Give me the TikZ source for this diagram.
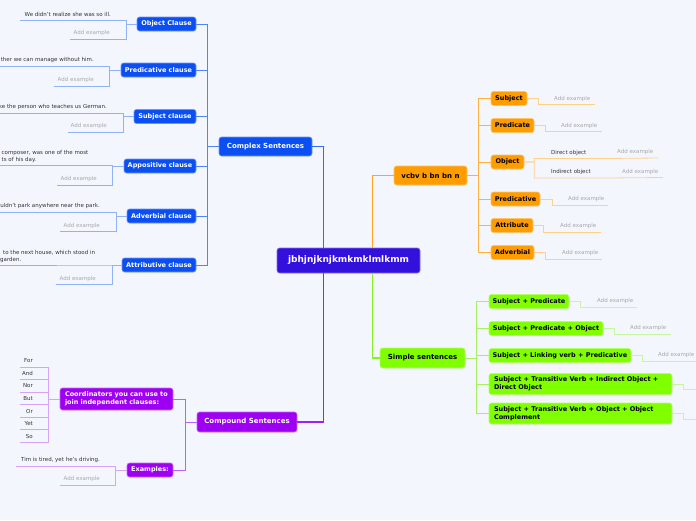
\documentclass[tikz,border=0pt]{standalone}
\usepackage{fontspec}
\setmainfont{DejaVu Sans}
\definecolor{bgc}{HTML}{F3F6FD}
\definecolor{cmain}{HTML}{3310DC}
\definecolor{cblue}{HTML}{0B4FF3}
\definecolor{corange}{HTML}{FF9C00}
\definecolor{cgreen}{HTML}{80FF00}
\definecolor{cpurple}{HTML}{9E00F2}
\definecolor{bmain}{HTML}{2F6DF2}
\definecolor{bspine}{HTML}{4F85F5}
\definecolor{bleafc}{HTML}{90B2F8}
\definecolor{omain}{HTML}{FFA51F}
\definecolor{ospine}{HTML}{FFB040}
\definecolor{oleafc}{HTML}{FFD08A}
\definecolor{gmain}{HTML}{88F020}
\definecolor{gspine}{HTML}{A8F060}
\definecolor{gleafc}{HTML}{C8F5A0}
\definecolor{pmain}{HTML}{A020F0}
\definecolor{pspine}{HTML}{B866F2}
\definecolor{pleafc}{HTML}{D4A4F7}
\definecolor{leaftext}{HTML}{333333}
\definecolor{addtext}{HTML}{A8A8A8}
\tikzset{
  box/.style={rounded corners=2.5pt, inner sep=0pt, align=center, line width=0.6pt},
  lvl0/.style={box, fill=cmain, draw=cmain!60!white, text=white, font=\fontsize{9}{11}\selectfont\bfseries},
  lvl1/.style={box, font=\fontsize{7}{8.5}\selectfont\bfseries},
  lvl2/.style={box, font=\fontsize{6.5}{7.8}\selectfont\bfseries},
  bluebox/.style={fill=cblue, draw=cblue!60!white, text=white},
  orangebox/.style={fill=corange, draw=corange!60!white, text=black},
  greenbox/.style={fill=cgreen, draw=cgreen!60!white, text=black},
  purplebox/.style={fill=cpurple, draw=cpurple!60!white, text=white},
  leaf/.style={inner sep=0pt, font=\fontsize{5.5}{7}\selectfont, text=leaftext},
  addex/.style={leaf, text=addtext},
  bm/.style={draw=bmain, line width=1.3pt},
  bs/.style={draw=bspine, line width=0.9pt},
  bl/.style={draw=bleafc, line width=0.8pt},
  om/.style={draw=omain, line width=1.3pt},
  os/.style={draw=ospine, line width=0.9pt},
  ol/.style={draw=oleafc, line width=0.8pt},
  gm/.style={draw=gmain, line width=1.3pt},
  gs/.style={draw=gspine, line width=0.9pt},
  gl/.style={draw=gleafc, line width=0.8pt},
  pm/.style={draw=pmain, line width=1.3pt},
  ps/.style={draw=pspine, line width=0.9pt},
  pl/.style={draw=pleafc, line width=0.8pt},
}
\begin{document}
\begin{tikzpicture}[x=1pt,y=-1pt]
\useasboundingbox (0,0) rectangle (696,520);
\fill[bgc] (0,0) rectangle (696,520);

% ---------------- central
\node[lvl0, minimum width=143pt, minimum height=25pt] (central) at (348.5,260.5) {jbhjnjknjkmkmklmlkmm};

% ---------------- blue branch
\node[lvl1, bluebox, minimum width=93pt, minimum height=19pt] (cs) at (265.5,146.5) {Complex Sentences};
\node[lvl2, bluebox, minimum width=59pt, minimum height=14pt] (oc) at (166.5,24) {Object Clause};
\node[lvl2, bluebox, minimum width=75pt, minimum height=14pt] (pc) at (158.5,70) {Predicative clause};
\node[lvl2, bluebox, minimum width=62pt, minimum height=14pt] (sc) at (165,116.5) {Subject clause};
\node[lvl2, bluebox, minimum width=72pt, minimum height=14pt] (ac) at (160,166) {Appositive clause};
\node[lvl2, bluebox, minimum width=69pt, minimum height=14pt] (adc) at (161.5,216) {Adverbial clause};
\node[lvl2, bluebox, minimum width=74pt, minimum height=14pt] (atc) at (159,265) {Attributive clause};

\draw[bm] ([xshift=47pt]central.north west) |- (cs.east);
\foreach \n in {oc,pc,sc,ac,adc,atc}{
  \draw[bs] (cs.west) -- ++(-11,0) |- (\n.east);
}

% blue leaves
\node[leaf, anchor=east] (ocT) at (111,14) {We didn't realize she was so ill.};
\node[addex, anchor=east] (ocA) at (110,33) {Add example};
\coordinate (ocTu) at (20,20); \coordinate (ocAu) at (70,39);
\draw[bl] (oc.west) -- ++(-10,0) |- (ocTu);
\draw[bl] (oc.west) -- ++(-10,0) |- (ocAu);

\node[leaf, anchor=east] (pcT) at (94,60) {ther we can manage without him.};
\node[addex, anchor=east] (pcA) at (94,80) {Add example};
\coordinate (pcTu) at (0,66); \coordinate (pcAu) at (54,86);
\draw[bl] (pc.west) -- ++(-11,0) |- (pcTu);
\draw[bl] (pc.west) -- ++(-11,0) |- (pcAu);

\node[leaf, anchor=east] (scT) at (107,107) {ke the person who teaches us German.};
\node[addex, anchor=east] (scA) at (107,126) {Add example};
\coordinate (scTu) at (0,113); \coordinate (scAu) at (68,132);
\draw[bl] (sc.west) -- ++(-10,0) |- (scTu);
\draw[bl] (sc.west) -- ++(-10,0) |- (scAu);

\node[leaf, anchor=north west, align=left] (acT) at (1.5,150) {composer, was one of the most\\ts of his day.};
\node[addex, anchor=east] (acA) at (97,179) {Add example};
\coordinate (acTu) at (0,165); \coordinate (acAu) at (57,185);
\draw[bl] (ac.west) -- ++(-11,0) |- (acTu);
\draw[bl] (ac.west) -- ++(-11,0) |- (acAu);

\node[leaf, anchor=east] (adcT) at (100,206) {uldn't park anywhere near the park.};
\node[addex, anchor=east] (adcA) at (100,226) {Add example};
\coordinate (adcTu) at (0,212); \coordinate (adcAu) at (60,231);
\draw[bl] (adc.west) -- ++(-10,0) |- (adcTu);
\draw[bl] (adc.west) -- ++(-10,0) |- (adcAu);

\node[leaf, anchor=north west, align=left] (atcT) at (0,250) {\hspace*{3pt}to the next house, which stood in\\garden.};
\node[addex, anchor=east] (atcA) at (96,279) {Add example};
\coordinate (atcTu) at (0,265); \coordinate (atcAu) at (56,284);
\draw[bl] (atc.west) -- ++(-9,0) |- (atcTu);
\draw[bl] (atc.west) -- ++(-9,0) |- (atcAu);

% ---------------- orange branch
\node[lvl1, orangebox, minimum width=73pt, minimum height=19pt] (vc) at (430.5,175.5) {vcbv b bn bn n};
\node[lvl2, orangebox, minimum width=36pt, minimum height=14pt] (subj) at (509,98.5) {Subject};
\node[lvl2, orangebox, minimum width=43pt, minimum height=14pt] (pred) at (512.5,125.5) {Predicate};
\node[lvl2, orangebox, minimum width=33pt, minimum height=14pt] (obj) at (507.5,162) {Object};
\node[lvl2, orangebox, minimum width=49pt, minimum height=14pt] (predv) at (515.5,199) {Predicative};
\node[lvl2, orangebox, minimum width=42pt, minimum height=14pt] (attr) at (512,225.5) {Attribute};
\node[lvl2, orangebox, minimum width=43pt, minimum height=14pt] (adv) at (512.5,252.5) {Adverbial};

\draw[om] ([xshift=96pt]central.north west) |- (vc.west);
\foreach \n in {subj,pred,obj,predv,attr,adv}{
  \draw[os] (vc.east) -- ++(11,0) |- (\n.west);
}

\node[addex, anchor=west] (subjA) at (554,98.5) {Add example};
\coordinate (subjAu) at (595,104);
\draw[ol] (subj.east) -- ++(11,0) |- (subjAu);

\node[addex, anchor=west] (predA) at (561,125.5) {Add example};
\coordinate (predAu) at (602,131);
\draw[ol] (pred.east) -- ++(11,0) |- (predAu);

\node[leaf, anchor=west] (dobj) at (551,153) {Direct object};
\node[addex, anchor=west] (dobjA) at (617,152) {Add example};
\node[leaf, anchor=west] (iobj) at (551,172) {Indirect object};
\node[addex, anchor=west] (iobjA) at (622,172) {Add example};
\coordinate (dobju) at (605,158.5); \coordinate (dobjAu) at (658,158);
\coordinate (iobju) at (607,178); \coordinate (iobjAu) at (663,177.5);
\draw[ol] (obj.east) -- ++(10,0) |- (dobju) -- (dobjAu);
\draw[ol] (obj.east) -- ++(10,0) |- (iobju) -- (iobjAu);

\node[addex, anchor=west] (predvA) at (568,199) {Add example};
\coordinate (predvAu) at (608,205);
\draw[ol] (predv.east) -- ++(12,0) |- (predvAu);

\node[addex, anchor=west] (attrA) at (560,226) {Add example};
\coordinate (attrAu) at (601,232);
\draw[ol] (attr.east) -- ++(10,0) |- (attrAu);

\node[addex, anchor=west] (advA) at (562,253) {Add example};
\coordinate (advAu) at (602,259);
\draw[ol] (adv.east) -- ++(11,0) |- (advAu);

% ---------------- green branch
\node[lvl1, greenbox, minimum width=85pt, minimum height=20pt] (ss) at (422.5,358) {Simple sentences};
\node[lvl2, greenbox, minimum width=80pt, minimum height=14pt] (g1) at (529,301.5) {Subject + Predicate};
\node[lvl2, greenbox, minimum width=114pt, minimum height=14pt] (g2) at (546,328.5) {Subject + Predicate + Object};
\node[lvl2, greenbox, minimum width=142pt, minimum height=14pt] (g3) at (560,355.5) {Subject + Linking verb + Predicative};
\node[lvl2, greenbox, text width=173pt, inner xsep=5pt, align=left, minimum height=21pt] (g4) at (580.5,384) {Subject + Transitive Verb + Indirect Object +\\Direct Object};
\node[lvl2, greenbox, text width=173pt, inner xsep=5pt, align=left, minimum height=21pt] (g5) at (580.5,413.5) {Subject + Transitive Verb + Object + Object\\Complement};

\draw[gm] ([xshift=96pt]central.south west) |- (ss.west);
\foreach \n in {g1,g2,g3,g4,g5}{
  \draw[gs] (ss.east) -- ++(11,0) |- (\n.west);
}

\node[addex, anchor=west] (g1A) at (597,301) {Add example};
\coordinate (g1Au) at (637,307);
\draw[gl] (g1.east) -- ++(11,0) |- (g1Au);
\node[addex, anchor=west] (g2A) at (630,328) {Add example};
\coordinate (g2Au) at (671,334);
\draw[gl] (g2.east) -- ++(11,0) |- (g2Au);
\node[addex, anchor=west] (g3A) at (658,355) {Add example};
\coordinate (g3Au) at (696,361);
\draw[gl] (g3.east) -- ++(11,0) |- (g3Au);
\coordinate (g4Au) at (696,389.5);
\draw[gl] (g4.east) -- ++(11,0) |- (g4Au);
\coordinate (g5Au) at (696,419);
\draw[gl] (g5.east) -- ++(11,0) |- (g5Au);

% ---------------- purple branch
\node[lvl1, purplebox, minimum width=100pt, minimum height=20pt] (cmp) at (247,422) {Compound Sentences};
\node[lvl2, purplebox, text width=103pt, inner xsep=5pt, align=left, minimum height=22pt] (coord) at (116.5,399) {Coordinators you can use to\\join independent clauses:};
\node[lvl2, purplebox, minimum width=46pt, minimum height=14pt] (ex) at (150,470) {Examples:};

\draw[pm] ([xshift=47pt]central.south west) |- (cmp.east);
\draw[ps] (cmp.west) -- ++(-11,0) |- (coord.east);
\draw[ps] (cmp.west) -- ++(-11,0) |- (ex.east);

\foreach \w/\ty/\uy [count=\i] in {For/361/367, And/373.5/379, Nor/386/392, But/398.5/404, Or/411/417, Yet/423.5/429, So/436/442}{
  \node[leaf, anchor=east] (cw\i) at (33,\ty) {\w};
  \coordinate (cwu\i) at (20,\uy);
  \draw[pl] (coord.west) -- ++(-11,0) |- (cwu\i);
}

\node[leaf, anchor=east] (exT) at (100,460) {Tim is tired, yet he's driving.};
\node[addex, anchor=east] (exA) at (100,479) {Add example};
\coordinate (exTu) at (16,466); \coordinate (exAu) at (60,485);
\draw[pl] (ex.west) -- ++(-11,0) |- (exTu);
\draw[pl] (ex.west) -- ++(-11,0) |- (exAu);

\end{tikzpicture}
\end{document}
